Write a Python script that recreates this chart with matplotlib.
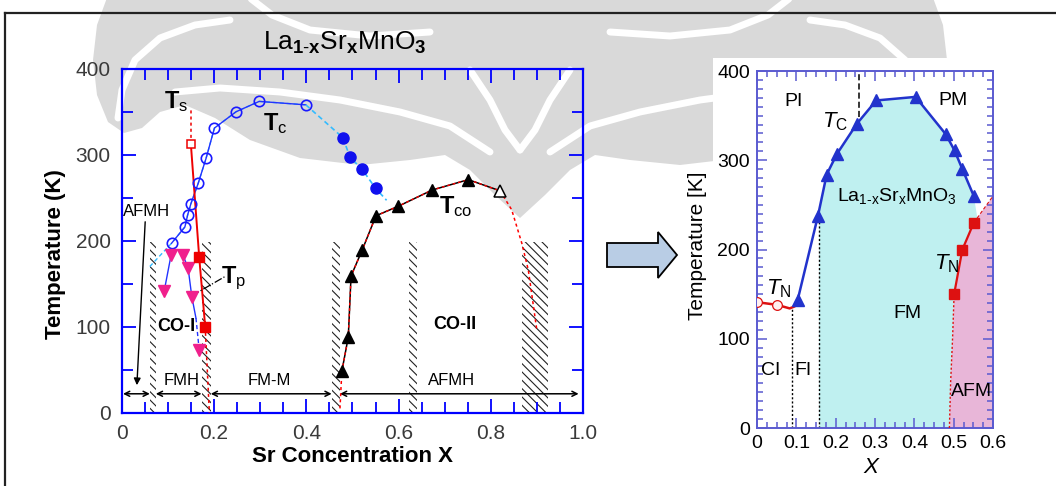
import numpy as np
import matplotlib
matplotlib.use('Agg')
import matplotlib.pyplot as plt
from matplotlib.patches import Polygon, Rectangle
from matplotlib.ticker import MultipleLocator

plt.rcParams['font.family'] = 'Liberation Sans'
plt.rcParams['mathtext.fontset'] = 'custom'
plt.rcParams['mathtext.rm'] = 'Liberation Sans'
plt.rcParams['mathtext.it'] = 'Liberation Sans:italic'
plt.rcParams['mathtext.bf'] = 'Liberation Sans:bold'
plt.rcParams['hatch.linewidth'] = 0.8
plt.rcParams['hatch.color'] = '#222222'

# ---------------- left diagram: La(1-x)Sr(x)MnO3, Sr concentration vs T
# Curie temperature, open and filled circles
tc_open_x = [0.108, 0.137, 0.143, 0.150, 0.166, 0.183, 0.201, 0.248, 0.298, 0.399]
tc_open_t = [197, 216, 230, 243, 267, 296, 331, 350, 362, 358]
tc_fill_x = [0.479, 0.495, 0.521, 0.550]
tc_fill_t = [320, 297, 283, 261]
tc_ext_x = [0.061, 0.574]
tc_ext_t = [170, 247]

# charge-order temperature (black triangles, last one open)
tco_x = [0.477, 0.491, 0.497, 0.521, 0.551, 0.599, 0.673, 0.751, 0.820]
tco_t = [48, 88, 159, 189, 229, 240, 259, 271, 258]
tco_tail_x = [0.820, 0.845, 0.867, 0.881, 0.899]
tco_tail_t = [258, 236, 197, 166, 98]
tco_foot_x = [0.473, 0.477]
tco_foot_t = [5, 48]

# magenta down triangles
tp_x = [0.092, 0.107, 0.133, 0.144, 0.152, 0.168]
tp_t = [141, 183, 183, 168, 135, 73]

# structural transition Ts (red squares)
ts_x = [0.150, 0.168, 0.181]
ts_t = [312, 181, 100]

# hatched phase boundaries
band_lo = [0.062, 0.174, 0.455, 0.623, 0.867]
band_hi = [0.074, 0.193, 0.473, 0.639, 0.924]
band_top = 199

# double arrows marking the ground-state regions
seg_lo = [0.003, 0.074, 0.193, 0.473]
seg_hi = [0.061, 0.173, 0.455, 0.990]
seg_t = 22

# ---------------- right diagram
tcr_x = [0.103, 0.155, 0.177, 0.203, 0.254, 0.303, 0.403, 0.480, 0.502, 0.522, 0.551]
tcr_t = [143, 238, 284, 307, 341, 367, 371, 329, 311, 290, 260]
tn_afm_x = [0.501, 0.522, 0.551]
tn_afm_t = [150, 200, 230]
tn_ci_x = [0.0, 0.051]
tn_ci_t = [141, 138]
tn_ci_line_x = [0.0, 0.051, 0.083, 0.094]
tn_ci_line_t = [141, 138, 134, 136]
afm_low_x = [0.489, 0.492, 0.497, 0.501]
afm_low_t = [0, 50, 100, 150]
afm_top_x = [0.551, 0.600]
afm_top_t = [230, 260]

fig = plt.figure(figsize=(10.56, 4.86), dpi=100)

# background layer in pixel coordinates (watermark, arrow, frame)
bg = fig.add_axes([0, 0, 1, 1], zorder=0)
bg.set_xlim(0, 1056)
bg.set_ylim(486, 0)
bg.axis('off')

cx = 520
half = [(cx, -5), (108, -5), (97, 25), (93, 60), (97, 95), (108, 122), (124, 133),
        (142, 128), (160, 112), (185, 105), (215, 118), (250, 140), (300, 158),
        (360, 165), (410, 160), (445, 155), (470, 170), (495, 195), (cx, 218)]
outline = half + [(2 * cx - x, y) for x, y in reversed(half[1:-1])]
gray = '#d9d9d9'
bg.add_patch(Polygon(outline, closed=True, fc=gray, ec='none'))
strokes = [
    [(118, 118), (122, 90), (135, 60), (160, 38), (195, 25), (230, 20)],
    [(175, 92), (220, 88), (280, 92), (340, 100), (400, 112), (450, 126), (490, 152)],
    [(250, -2), (272, 15), (310, 30), (370, 36), (430, 32)],
    [(470, 70), (490, 100), (505, 130), (520, 150)],
]
for s in strokes:
    xs, ys = zip(*s)
    bg.plot(xs, ys, color='white', lw=5, solid_capstyle='round')
    bg.plot([2 * cx - x for x in xs], ys, color='white', lw=5, solid_capstyle='round')
# the right picture sits on a white card
bg.add_patch(Rectangle((713, 58), 300, 425, fc='white', ec='none'))

# frame lines
bg.plot([5, 1056], [13, 13], color='#222222', lw=1.6)
bg.plot([5, 5], [13, 486], color='#222222', lw=1.6)

# block arrow between the two diagrams
arrow = [(607, 243), (658, 243), (658, 232), (677, 255), (658, 278), (658, 267), (607, 267)]
bg.add_patch(Polygon(arrow, closed=True, fc='#b9cde5', ec='black', lw=1.3))

# ---------------- left axes
axL = fig.add_axes([0.1152, 0.1508, 0.4371, 0.7078], zorder=2)
axL.set_facecolor('none')
axL.set_xlim(0, 1)
axL.set_ylim(0, 400)
for sp in axL.spines.values():
    sp.set_color('#0000ff')
    sp.set_linewidth(1.6)
axL.set_xticks(np.arange(0, 1.01, 0.2))
axL.set_xticklabels(['0', '0.2', '0.4', '0.6', '0.8', '1.0'])
axL.set_yticks([0, 100, 200, 300, 400])
axL.xaxis.set_minor_locator(MultipleLocator(0.05))
axL.yaxis.set_minor_locator(MultipleLocator(50))
axL.tick_params(which='both', direction='in', top=True, right=True, color='#0000ff',
                width=1.3, labelsize=15, labelcolor='#3a3a3a', pad=8)
axL.tick_params(which='major', length=10)
axL.tick_params(which='minor', length=8)
axL.set_xlabel('Sr Concentration X', fontsize=16, fontweight='bold')
axL.set_ylabel('Temperature (K)', fontsize=16, fontweight='bold')
axL.xaxis.set_label_coords(0.5, -0.097)
axL.yaxis.set_label_coords(-0.120, 0.461)

for lo, hi in zip(band_lo, band_hi):
    axL.add_patch(Rectangle((lo, 0), hi - lo, band_top, fc='none', ec='#222222',
                            lw=0, hatch='\\\\\\\\', zorder=1))

for lo, hi in zip(seg_lo, seg_hi):
    axL.annotate('', xy=(hi, seg_t), xytext=(lo, seg_t),
                 arrowprops=dict(arrowstyle='<->', lw=1.1, color='black',
                                 shrinkA=0, shrinkB=0, mutation_scale=9))

# Tc curve
axL.plot([tc_ext_x[0]] + tc_open_x, [tc_ext_t[0]] + tc_open_t, color='#33bbff',
         lw=1.0, ls=(0, (3, 2)), zorder=3)
axL.plot(tc_open_x, tc_open_t, color='#2233ff', lw=1.0, zorder=3)
axL.plot([tc_open_x[-1]] + tc_fill_x + [tc_ext_x[1]], [tc_open_t[-1]] + tc_fill_t + [tc_ext_t[1]],
         color='#33bbff', lw=1.2, ls=(0, (3, 2)), zorder=3)
axL.plot(tc_open_x, tc_open_t, 'o', ms=7.5, mfc='none', mec='#1a1aff', mew=1.2, zorder=4)
axL.plot(tc_fill_x, tc_fill_t, 'o', ms=8, mfc='#1010ee', mec='#1010ee', zorder=4)

# TCO curve
axL.plot(tco_x, tco_t, color='black', lw=1.1, zorder=3)
axL.plot(tco_x, tco_t, color='red', lw=1.0, ls=(0, (2, 2)), zorder=3)
axL.plot(tco_tail_x, tco_tail_t, color='red', lw=1.1, ls=(0, (2, 2)), zorder=3)
axL.plot(tco_foot_x, tco_foot_t, color='red', lw=1.1, ls=(0, (2, 2)), zorder=3)
axL.plot(tco_x[:-1], tco_t[:-1], '^', ms=8.5, color='black', zorder=4)
axL.plot(tco_x[-1:], tco_t[-1:], '^', ms=8.5, mfc='white', mec='black', mew=1.1, zorder=4)

# magenta triangles with their guide lines
axL.plot(tp_x[:2], tp_t[:2], color='#2233ff', lw=1.0, zorder=3)
axL.plot(tp_x[2:5] + [0.161], tp_t[2:5] + [110], color='#2233ff', lw=1.0, zorder=3)
axL.plot([0.161, tp_x[5]], [110, tp_t[5]], color='#2233ff', lw=1.0, ls=(0, (3, 2)), zorder=3)
axL.plot(tp_x, tp_t, 'v', ms=8.5, color='#f0208c', zorder=4)

# Ts line
axL.plot(ts_x, ts_t, color='#ee0000', lw=1.4, zorder=3)
axL.plot([ts_x[0], ts_x[0]], [ts_t[0], 352], color='#ee0000', lw=1.1, ls=(0, (2, 2)), zorder=3)
axL.plot([ts_x[-1], 0.190], [ts_t[-1], 0], color='#ee0000', lw=1.1, ls=(0, (2, 2)), zorder=3)
axL.plot(ts_x[:1], ts_t[:1], 's', ms=6, mfc='white', mec='#ee0000', mew=1.1, zorder=4)
axL.plot(ts_x[1:], ts_t[1:], 's', ms=7, color='#ee0000', zorder=4)

# Tp pointer
axL.plot([0.152, 0.226], [136, 159], color='black', lw=0.9, ls='-.', zorder=3)

# AFMH pointer
axL.annotate('', xy=(0.033, 32), xytext=(0.051, 222),
             arrowprops=dict(arrowstyle='-|>', lw=1.0, color='black',
                             shrinkA=0, shrinkB=0, mutation_scale=10))

lab = dict(ha='center', va='center', zorder=5)
axL.text(0.118, 362, r'$\mathbf{T}_{\mathrm{s}}$', fontsize=17, **lab)
axL.text(0.332, 336, r'$\mathbf{T}_{\mathrm{c}}$', fontsize=17, **lab)
axL.text(0.724, 240, r'$\mathbf{T}_{\mathrm{co}}$', fontsize=17, **lab)
axL.text(0.242, 156, r'$\mathbf{T}_{\mathrm{p}}$', fontsize=17, **lab)
axL.text(0.054, 234, 'AFMH', fontsize=12, **lab)
axL.text(0.130, 38, 'FMH', fontsize=12, **lab)
axL.text(0.320, 38, 'FM-M', fontsize=12, **lab)
axL.text(0.715, 38, 'AFMH', fontsize=12, **lab)
axL.text(0.119, 100, 'CO-I', fontsize=13, fontweight='bold', **lab)
axL.text(0.722, 102, 'CO-II', fontsize=13, fontweight='bold', **lab)

fig.text(345 / 1056, 1 - 43 / 486, r'La$_{\mathbf{1\text{-}x}}$Sr$_{\mathbf{x}}$MnO$_{\mathbf{3}}$',
         fontsize=19, ha='center', va='center')

# ---------------- right axes
axR = fig.add_axes([0.7169, 0.1193, 0.2235, 0.7346], zorder=2)
axR.set_facecolor('white')
axR.set_xlim(0, 0.6)
axR.set_ylim(0, 400)
for sp in axR.spines.values():
    sp.set_color('#5a5ad0')
    sp.set_linewidth(1.4)
axR.set_xticks(np.arange(0, 0.61, 0.1))
axR.set_xticklabels(['0', '0.1', '0.2', '0.3', '0.4', '0.5', '0.6'])
axR.set_yticks([0, 100, 200, 300, 400])
axR.xaxis.set_minor_locator(MultipleLocator(0.025))
axR.yaxis.set_minor_locator(MultipleLocator(10))
axR.tick_params(which='both', direction='in', top=True, right=True, color='#5a5ad0',
                width=1.1, labelsize=14, labelcolor='black', pad=5)
axR.tick_params(which='major', length=7)
axR.tick_params(which='minor', length=4)
axR.set_xlabel('X', fontsize=16, style='italic')
axR.set_ylabel('Temperature [K]', fontsize=15)
axR.xaxis.set_label_coords(0.482, -0.080)
axR.yaxis.set_label_coords(-0.212, 0.51)

fm_x = [0.158, 0.158] + tcr_x[2:] + [0.560] + tn_afm_x[::-1] + afm_low_x[::-1][1:]
fm_t = [0, 240] + tcr_t[2:] + [235.5] + tn_afm_t[::-1] + afm_low_t[::-1][1:]
axR.fill(fm_x, fm_t, color='#bff0f0', lw=0, zorder=1)
afm_x = afm_low_x + tn_afm_x[1:] + [afm_top_x[1], 0.6]
afm_t = afm_low_t + tn_afm_t[1:] + [afm_top_t[1], 0]
axR.fill(afm_x, afm_t, color='#e8b6d8', lw=0, zorder=1)

axR.plot([0.090, 0.090], [0, 134], color='black', lw=1.0, ls=(0, (1.5, 1.5)), zorder=2)
axR.plot([0.158, 0.158], [0, 238], color='black', lw=1.0, ls=(0, (1.5, 1.5)), zorder=2)
axR.plot([0.260, 0.260], [349, 400], color='black', lw=1.1, ls=(0, (4, 2)), zorder=2)

axR.plot(tcr_x, tcr_t, color='#2233cc', lw=1.8, zorder=3)
axR.plot(tcr_x, tcr_t, '^', ms=8, color='#2233cc', zorder=4)
axR.plot(tn_afm_x, tn_afm_t, color='#dd1111', lw=1.6, zorder=3)
axR.plot(tn_afm_x, tn_afm_t, 's', ms=6.5, color='#dd1111', zorder=4)
axR.plot(afm_low_x, afm_low_t, color='#dd1111', lw=1.0, ls=(0, (1.5, 1.5)), zorder=3)
axR.plot(afm_top_x, afm_top_t, color='#dd1111', lw=0.8, ls=(0, (3, 2)), zorder=3)
axR.plot(tn_ci_line_x, tn_ci_line_t, color='#dd1111', lw=1.8, zorder=3)
axR.plot(tn_ci_x, tn_ci_t, 'o', ms=7, mfc='#fff0f0', mec='#dd1111', mew=0.9, zorder=4)

labR = dict(ha='center', va='center', zorder=5, fontsize=14)
axR.text(0.092, 366, 'PI', **labR)
axR.text(0.498, 367, 'PM', **labR)
axR.text(0.198, 343, r'$T_{\mathrm{C}}$', ha='center', va='center', zorder=5, fontsize=16)
axR.text(0.355, 260, r'La$_{\mathrm{1\text{-}x}}$Sr$_{\mathrm{x}}$MnO$_{\mathrm{3}}$', **labR)
axR.text(0.481, 184, r'$T_{\mathrm{N}}$', ha='center', va='center', zorder=5, fontsize=16)
axR.text(0.054, 156, r'$T_{\mathrm{N}}$', ha='center', va='center', zorder=5, fontsize=16)
axR.text(0.383, 128, 'FM', **labR)
axR.text(0.034, 64, 'CI', **labR)
axR.text(0.118, 64, 'FI', **labR)
axR.text(0.546, 41, 'AFM', **labR)

fig.savefig('out.png', dpi=100)
